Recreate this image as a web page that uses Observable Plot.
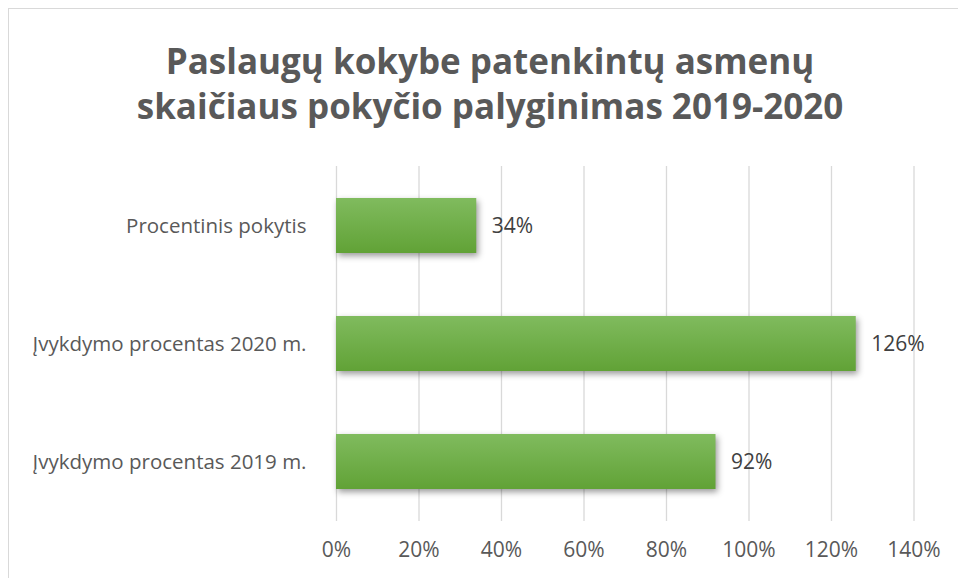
<!DOCTYPE html>
<html><head><meta charset="utf-8">
<script src="https://cdn.jsdelivr.net/npm/d3@7"></script>
<script src="https://cdn.jsdelivr.net/npm/@observablehq/plot@0.6"></script>
<style>
body{margin:0;background:#fff;width:958px;height:578px;overflow:hidden;position:relative;font-family:"Open Sans",sans-serif;}
#frame{position:absolute;left:8px;top:8px;width:970px;height:590px;border:1px solid #d9d9d9;box-sizing:border-box;}
#title{position:absolute;left:0;top:38px;width:980px;text-align:center;font-family:"Open Sans",sans-serif;font-weight:700;font-size:35px;line-height:45px;color:#595959;}
#chart{position:absolute;left:0;top:130px;}
#chart svg g[aria-label="y-axis tick label"] text{font-size:20.5px;}
#chart svg g[aria-label="x-axis tick label"] text{font-size:21px;}
#chart svg g[aria-label="text"] text{font-size:21px;}
</style></head>
<body>
<div id="frame"></div>
<div id="title">Paslaugų kokybe patenkintų asmenų<br>skaičiaus pokyčio palyginimas 2019-2020</div>
<div id="chart"></div>
<script>
const categories = ["Procentinis pokytis", "Įvykdymo procentas 2020 m.", "Įvykdymo procentas 2019 m."];
const values = [0.34, 1.26, 0.92];
const tickValues = [0, 0.2, 0.4, 0.6, 0.8, 1.0, 1.2, 1.4];
const tickLabels = ["0%", "20%", "40%", "60%", "80%", "100%", "120%", "140%"];

const data = categories.map((c, i) => ({category: c, value: values[i]}));

const plot = Plot.plot({
  width: 958,
  height: 448,
  marginLeft: 336,
  marginRight: 44.5,
  marginTop: 36,
  marginBottom: 57,
  style: {fontFamily: "Open Sans, sans-serif", fontSize: "20px", color: "#595959", background: "transparent"},
  x: {domain: [0, 1.4], label: null},
  y: {domain: categories, label: null, paddingInner: 0.536, paddingOuter: 0.266},
  marks: [
    Plot.gridX(tickValues, {stroke: "#d9d9d9", strokeOpacity: 1, strokeWidth: 1.3}),
    Plot.axisX({ticks: tickValues, tickFormat: (d) => tickLabels[tickValues.indexOf(d)], tickSize: 0, tickPadding: 21, fill: "#595959"}),
    Plot.axisY({tickSize: 0, tickPadding: 30, fill: "#595959"}),
    Plot.barX(data, {x: "value", y: "category", fill: "url(#barGrad)"}),
    Plot.text(data, {x: "value", y: "category", text: d => Math.round(d.value * 100) + "%", dx: 15, textAnchor: "start", fill: "#404040"})
  ]
});

const defs = d3.select(plot).insert("defs", ":first-child");
const g = defs.append("linearGradient").attr("id", "barGrad").attr("x1", 0).attr("y1", 0).attr("x2", 0).attr("y2", 1);
g.append("stop").attr("offset", "0%").attr("stop-color", "#80bb5e");
g.append("stop").attr("offset", "100%").attr("stop-color", "#61a236");
d3.select(plot).selectAll("g[aria-label='bar'] rect").attr("style", "filter: drop-shadow(2px 3px 3px rgba(0,0,0,0.4))");
document.getElementById("chart").appendChild(plot);
</script>
</body></html>
